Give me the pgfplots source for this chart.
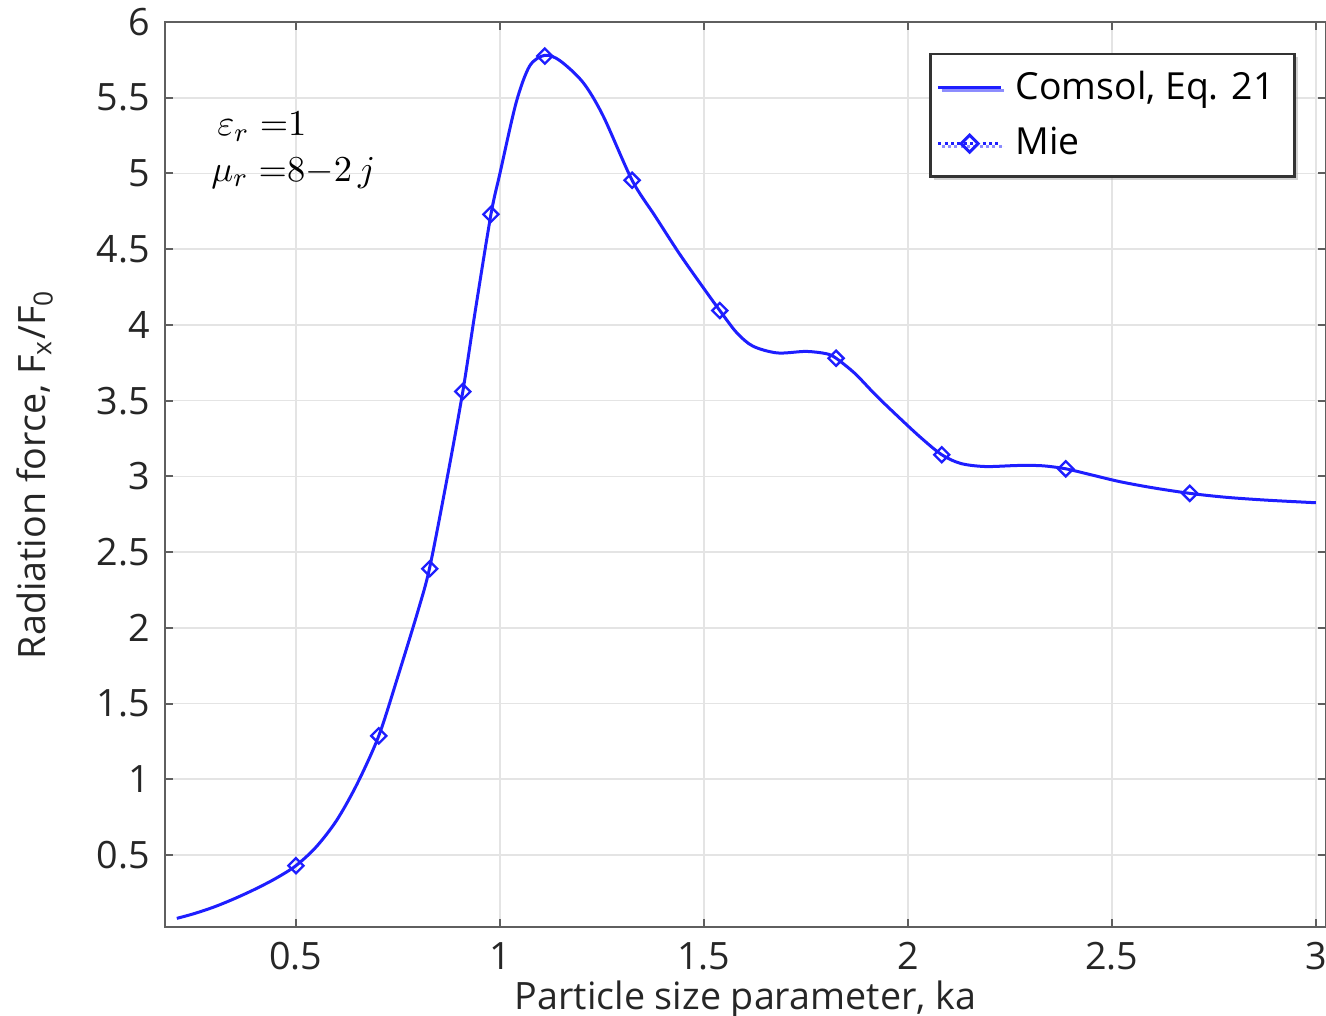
\documentclass[border=0pt]{standalone}
\usepackage{fontspec}
\setmainfont{Open Sans}
\usepackage{pgfplots}
\pgfplotsset{compat=1.18}
\usetikzlibrary{calc,shadows}

\definecolor{curve}{RGB}{30,30,255}
\definecolor{gridc}{RGB}{228,228,228}
\definecolor{axc}{RGB}{95,95,95}

\begin{document}
\begin{tikzpicture}
\begin{axis}[
  name=ax,
  scale only axis,
  width=348.3pt, height=271.5pt,
  xmin=0.179, xmax=3.025,
  ymin=0.025, ymax=6,
  xtick={0.5,1,1.5,2,2.5,3},
  ytick={0.5,1,1.5,2,2.5,3,3.5,4,4.5,5,5.5,6},
  /pgf/number format/assume math mode=true,
  tick label style={font=\fontsize{11.3}{13}\selectfont, text=black!85},
  xticklabel style={yshift=-1pt},
  yticklabel style={xshift=-1pt},
  label style={font=\fontsize{11.3}{13}\selectfont, text=black!85},
  tick align=inside,
  major tick length=2.4pt,
  tick style={axc, line width=0.6pt},
  axis line style={axc, line width=0.8pt},
  grid=major,
  major grid style={gridc, line width=0.5pt},
  xlabel={Particle size parameter, ka},
  ylabel={Radiation force, F\textsubscript{x}/F\textsubscript{0}},
  xlabel style={at={(axis description cs:0.5,-0.08)}, anchor=center},
  ylabel style={at={(axis description cs:-0.112,0.5)}, anchor=center},
  legend style={at={(0.974,0.966)}, anchor=north east,
    draw=black!80, line width=0.8pt, fill=white,
    font=\fontsize{11.2}{13}\selectfont,
    inner xsep=2pt, inner ysep=3pt,
    row sep=3pt,
    nodes={inner xsep=4pt},
    drop shadow={shadow xshift=1pt, shadow yshift=-1pt, fill=black!35},
    cells={anchor=west}},
  legend image code/.code={
    \draw[mark repeat=2, mark phase=2, #1]
      plot coordinates {(0cm,0cm) (0.33cm,0cm) (0.66cm,0cm)};},
]
% Comsol, Eq. 21
\addplot[curve, line width=0.9pt, smooth] coordinates {
  (0.208,0.082) (0.25,0.113) (0.3,0.158) (0.35,0.213) (0.4,0.275)
  (0.45,0.345) (0.5,0.43) (0.55,0.555) (0.6,0.73) (0.65,0.97)
  (0.703,1.287) (0.75,1.68) (0.8,2.12) (0.828,2.40) (0.87,2.98)
  (0.909,3.56) (0.94,4.10) (0.978,4.73) (1.0,5.0) (1.04,5.47)
  (1.073,5.71) (1.11,5.78) (1.147,5.745) (1.204,5.60) (1.253,5.38)
  (1.324,4.955) (1.38,4.72) (1.44,4.47) (1.5,4.24) (1.539,4.095)
  (1.58,3.95) (1.62,3.86) (1.68,3.815) (1.75,3.825) (1.8,3.81)
  (1.824,3.78) (1.87,3.68) (1.92,3.54) (1.97,3.41) (2.03,3.26)
  (2.083,3.143) (2.13,3.085) (2.19,3.065) (2.27,3.072) (2.33,3.07)
  (2.387,3.05) (2.45,3.01) (2.52,2.965) (2.6,2.925) (2.691,2.888)
  (2.78,2.862) (2.88,2.843) (3.0,2.826)
};
\addlegendentry{Comsol, Eq. 21}
\addlegendimage{curve, densely dotted, line width=0.9pt, mark=square,
  mark size=1.8pt, mark options={solid, rotate=45, line width=0.9pt}}
\addlegendentry{Mie}
% Mie
\addplot[curve, only marks, mark=square, mark size=1.6pt,
  mark options={rotate=45, line width=0.7pt}, forget plot] coordinates {
  (0.5,0.43) (0.703,1.287) (0.828,2.39) (0.909,3.56) (0.978,4.73)
  (1.110,5.775) (1.324,4.955) (1.539,4.095) (1.824,3.78) (2.083,3.143)
  (2.387,3.05) (2.691,2.888)
};
\node[anchor=base west, inner sep=0pt, font=\fontsize{11.2}{13}\selectfont] at (axis cs:0.306,5.248) {$\varepsilon_r\;{=}1$};
\node[anchor=base west, inner sep=0pt, font=\fontsize{11.2}{13}\selectfont] at (axis cs:0.291,4.950) {$\mu_r\;{=}8{-}2\,j$};
\end{axis}
\pgfresetboundingbox
\path ($(ax.south west)+(-49.5pt,-26.4pt)$) rectangle ($(ax.north east)+(0pt,6.6pt)$);
\end{tikzpicture}
\end{document}
